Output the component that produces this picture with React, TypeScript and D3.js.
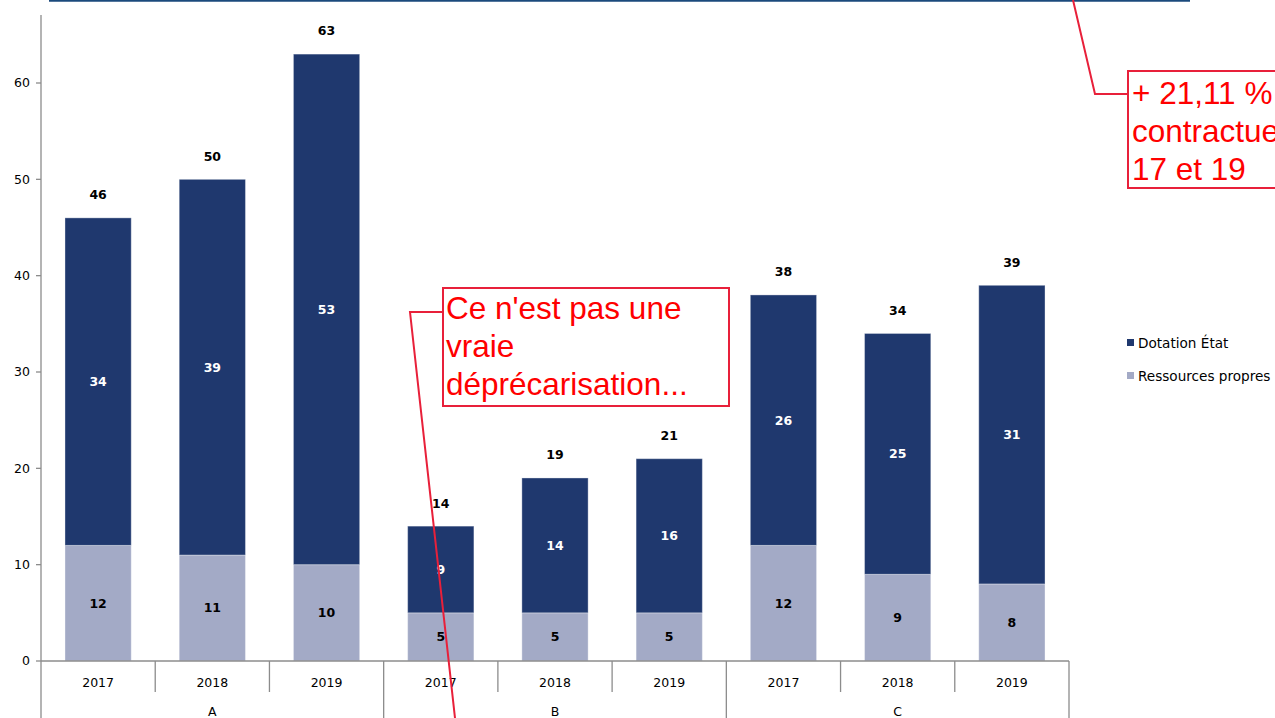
import React from "react";
import * as d3 from "d3";

const groups = ["A", "B", "C"];
const years = ["2017", "2018", "2019"];
const dotation = [34, 39, 53, 9, 14, 16, 26, 25, 31];
const ressources = [12, 11, 10, 5, 5, 5, 12, 9, 8];
const totals = [46, 50, 63, 14, 19, 21, 38, 34, 39];
const yTicks = [0, 10, 20, 30, 40, 50, 60];
const seriesNames = ["Dotation État", "Ressources propres"];
const callout1 = ["+ 21,11 %", "contractue", "17 et 19"];
const callout2 = ["Ce n'est pas une", "vraie", "déprécarisation..."];

const DARK = "#1f386e";
const LIGHT = "#a3aac6";
const RED = "#ff0000";
const BOXRED = "#e8203a";
const FONT = "'DejaVu Sans', Verdana, sans-serif";
const CFONT = "'Liberation Sans', Arial, sans-serif";

export default function App() {
  const W = 1275, H = 718;
  const x0 = 41, x1 = 1069, yBase = 661;
  const cats = groups.flatMap((g) => years.map((y) => `${g}-${y}`));
  const x = d3.scaleBand<string>().domain(cats).range([x0, x1]).paddingInner(0.42).paddingOuter(0.21);
  const xb = d3.scaleBand<string>().domain(cats).range([x0, x1]).padding(0);
  const y = d3.scaleLinear().domain([0, 60]).range([yBase, 83]);
  const stack = d3.stack<number>().keys(["r", "d"] as any).value((i: any, k: any) => (k === "r" ? ressources[i] : dotation[i]));
  const series = stack(d3.range(cats.length) as any);
  const colors: Record<string, string> = { r: LIGHT, d: DARK };
  const gx = d3.scaleBand<string>().domain(groups).range([x0, x1]);

  return (
    <svg width={W} height={H} style={{ position: "absolute", left: 0, top: 0, background: "#fff" }}>
      <defs>
        <clipPath id="clipAll"><rect x={0} y={0} width={W} height={H} /></clipPath>
      </defs>
      <rect x={0} y={0} width={W} height={H} fill="#fff" />
      <line x1={49} x2={1190} y1={0.5} y2={0.5} stroke="#1b4a7c" strokeWidth={2.5} />
      <line x1={x0} x2={x0} y1={15} y2={718} stroke="#8c8c8c" strokeWidth={1.3} />
      {yTicks.map((t) => (
        <g key={t}>
          <line x1={36} x2={x0} y1={y(t)} y2={y(t)} stroke="#8c8c8c" strokeWidth={1.3} />
          <text x={30} y={y(t)} dy="0.35em" textAnchor="end" fontFamily={FONT} fontSize={12.5} fill="#000">{t}</text>
        </g>
      ))}
      {series.map((s: any) =>
        s.map((d: any, i: number) => (
          <rect key={s.key + i} x={x(cats[i])} width={x.bandwidth()} y={y(d[1])} height={y(d[0]) - y(d[1])}
            fill={colors[s.key]} stroke="#ffffff" strokeOpacity={0.35} strokeWidth={1} />
        ))
      )}
      {series.map((s: any) =>
        s.map((d: any, i: number) => (
          <text key={"l" + s.key + i} x={(x(cats[i]) as number) + x.bandwidth() / 2} y={(y(d[0]) + y(d[1])) / 2} dy="0.35em"
            textAnchor="middle" fontFamily={FONT} fontSize={12.5} fontWeight="bold" fill={s.key === "d" ? "#fff" : "#000"}>
            {s.key === "d" ? dotation[i] : ressources[i]}
          </text>
        ))
      )}
      {totals.map((t, i) => (
        <text key={"t" + i} x={(x(cats[i]) as number) + x.bandwidth() / 2} y={y(t) - 23} dy="0.35em" textAnchor="middle"
          fontFamily={FONT} fontSize={12.5} fontWeight="bold" fill="#000">{t}</text>
      ))}
      <line x1={x0} x2={x1} y1={yBase} y2={yBase} stroke="#8c8c8c" strokeWidth={1.3} />
      {cats.map((c, i) => {
        const xl = xb(c) as number;
        const isGroup = i % 3 === 0;
        return (
          <g key={"x" + c}>
            {i > 0 && <line x1={xl} x2={xl} y1={yBase} y2={isGroup ? 718 : 692} stroke="#8c8c8c" strokeWidth={1.3} />}
            <text x={xl + xb.bandwidth() / 2} y={683} dy="0.35em" textAnchor="middle" fontFamily={FONT} fontSize={12.5} fill="#000">
              {years[i % 3]}
            </text>
          </g>
        );
      })}
      <line x1={x1} x2={x1} y1={yBase} y2={718} stroke="#8c8c8c" strokeWidth={1.3} />
      {groups.map((g) => (
        <text key={g} x={(gx(g) as number) + gx.bandwidth() / 2} y={712} dy="0.35em" textAnchor="middle" fontFamily={FONT} fontSize={12.5} fill="#000">{g}</text>
      ))}
      {seriesNames.map((n, i) => (
        <g key={n} transform={`translate(1127, ${343 + i * 33})`}>
          <rect x={0} y={-4} width={7} height={7} fill={i === 0 ? DARK : LIGHT} />
          <text x={11} y={0} dy="0.35em" fontFamily={FONT} fontSize={13.6} fill="#000">{n}</text>
        </g>
      ))}
      <polyline points="1073,0 1095,94 1128,94" fill="none" stroke={BOXRED} strokeWidth={2} />
      <rect x={1128} y={71} width={160} height={117} fill="#fff" stroke={BOXRED} strokeWidth={2} />
      <g clipPath="url(#clipAll)">
        {callout1.map((l, i) => (
          <text key={l} x={1132} y={104 + i * 38} fontFamily={CFONT} fontSize={31.5} fill={RED}>{l}</text>
        ))}
      </g>
      <rect x={443} y={288} width={286} height={118} fill="#fff" stroke={BOXRED} strokeWidth={2} />
      {callout2.map((l, i) => (
        <text key={l} x={446} y={319 + i * 38} fontFamily={CFONT} fontSize={31.5} fill={RED}>{l}</text>
      ))}
      <polyline points="443,312 410,312 455,718" fill="none" stroke={BOXRED} strokeWidth={2} />
    </svg>
  );
}
